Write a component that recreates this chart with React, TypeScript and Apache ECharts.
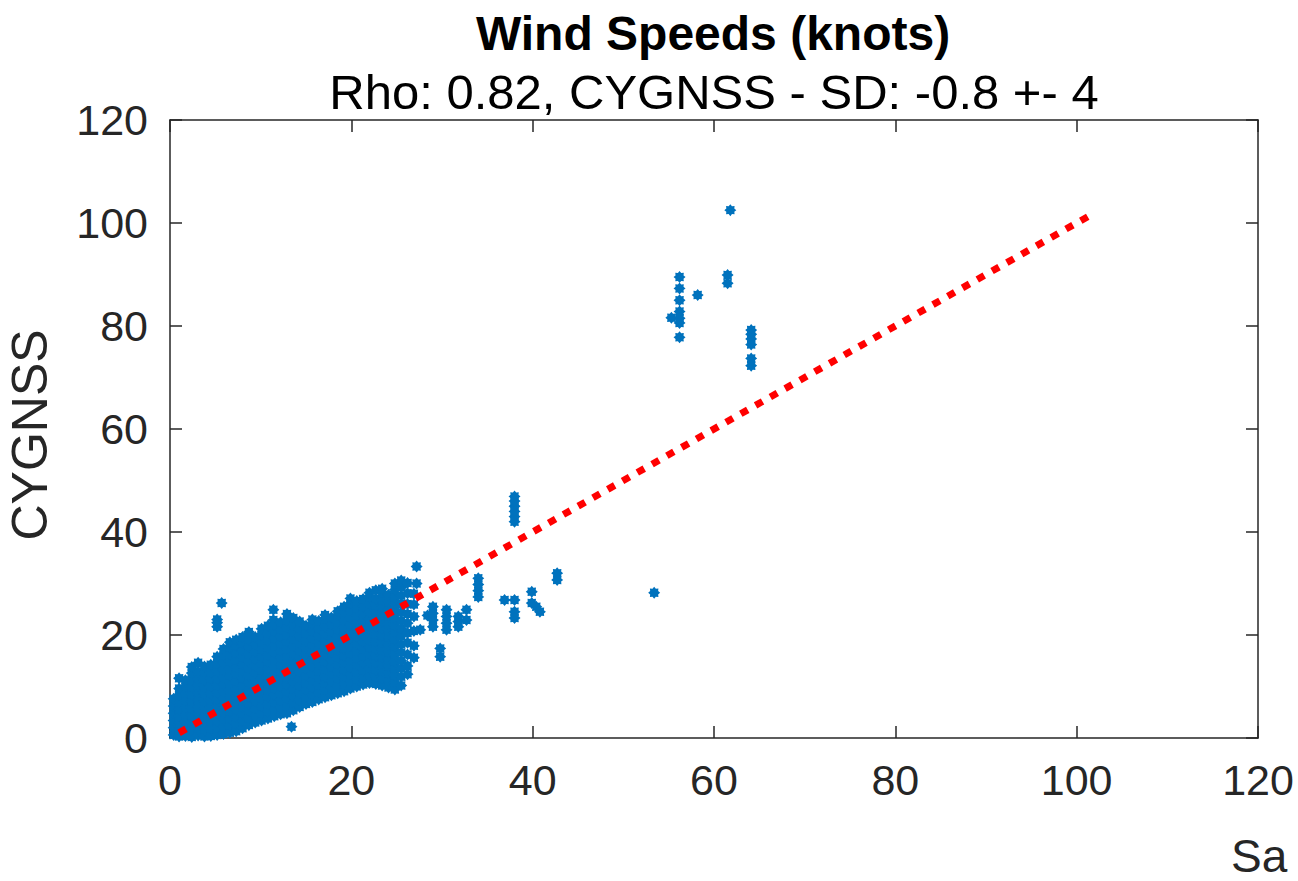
import React, { useEffect, useRef } from "react";
import * as echarts from "echarts";

// Axis ticks
const X_TICKS = [0, 20, 40, 60, 80, 100, 120];
const Y_TICKS = [0, 20, 40, 60, 80, 100, 120];

// Main dense cloud, read column by column: [x, [y values]]
const CLOUD: [number, number[]][] = [
  [0.4, [0.6, 2.0, 3.4, 4.8, 6.2, 7.6]],
  [1.0, [0.3, 1.5, 2.9, 4.3, 5.6, 7.0, 8.4, 9.6, 11.6]],
  [1.7, [0.4, 1.8, 3.1, 4.5, 5.9, 7.3, 8.6, 10.0, 11.2]],
  [2.4, [0.2, 1.6, 3.0, 4.4, 5.8, 7.1, 8.5, 9.9, 11.3, 12.6, 13.8]],
  [3.1, [0.5, 1.9, 3.3, 4.6, 6.0, 7.4, 8.8, 10.2, 11.5, 12.9, 14.6]],
  [3.8, [0.3, 1.7, 3.0, 4.4, 5.8, 7.2, 8.6, 9.9, 11.3, 12.7, 13.9]],
  [4.5, [0.4, 1.8, 3.2, 4.6, 6.0, 7.3, 8.7, 10.1, 11.5, 12.8, 14.2]],
  [5.2, [0.6, 2.0, 3.4, 4.8, 6.1, 7.5, 8.9, 10.3, 11.6, 13.0, 14.4, 15.8, 21.6, 22.4, 23.0]],
  [5.7, [26.2]],
  [5.9, [0.8, 2.2, 3.6, 4.9, 6.3, 7.7, 9.1, 10.4, 11.8, 13.2, 14.6, 16.0, 17.3]],
  [6.6, [1.0, 2.4, 3.8, 5.2, 6.6, 7.9, 9.3, 10.7, 12.1, 13.4, 14.8, 16.2, 17.6, 18.6]],
  [7.3, [1.3, 2.7, 4.1, 5.5, 6.9, 8.2, 9.6, 11.0, 12.4, 13.8, 15.1, 16.5, 17.9, 19.1]],
  [8.0, [1.9, 3.3, 4.7, 6.0, 7.4, 8.8, 10.2, 11.6, 12.9, 14.3, 15.7, 17.1, 18.4, 19.6]],
  [8.7, [2.5, 3.9, 5.3, 6.7, 8.0, 9.4, 10.8, 12.2, 13.6, 14.9, 16.3, 17.7, 19.1, 20.6]],
  [9.4, [3.0, 4.4, 5.8, 7.2, 8.5, 9.9, 11.3, 12.7, 14.1, 15.4, 16.8, 18.2, 19.6]],
  [10.1, [3.4, 4.8, 6.2, 7.6, 8.9, 10.3, 11.7, 13.1, 14.5, 15.8, 17.2, 18.6, 20.0, 21.2]],
  [10.8, [3.8, 5.2, 6.6, 8.0, 9.3, 10.7, 12.1, 13.5, 14.9, 16.2, 17.6, 19.0, 20.4, 21.8]],
  [11.4, [22.9, 24.9]],
  [11.5, [4.2, 5.6, 7.0, 8.4, 9.7, 11.1, 12.5, 13.9, 15.3, 16.6, 18.0, 19.4, 20.8, 22.0]],
  [12.2, [4.6, 6.0, 7.4, 8.7, 10.1, 11.5, 12.9, 14.3, 15.6, 17.0, 18.4, 19.8, 21.1, 22.5]],
  [12.9, [4.8, 6.2, 7.6, 9.0, 10.4, 11.8, 13.1, 14.5, 15.9, 17.3, 18.7, 20.0, 21.4, 22.8, 24.1]],
  [13.4, [2.2]],
  [13.6, [5.4, 6.8, 8.2, 9.5, 10.9, 12.3, 13.7, 15.1, 16.4, 17.8, 19.2, 20.6, 21.9, 23.3]],
  [14.3, [6.0, 7.4, 8.8, 10.2, 11.5, 12.9, 14.3, 15.7, 17.0, 18.4, 19.8, 21.2, 22.6]],
  [15.0, [6.6, 8.0, 9.4, 10.7, 12.1, 13.5, 14.9, 16.3, 17.6, 19.0, 20.4, 21.8]],
  [15.7, [7.0, 8.4, 9.8, 11.2, 12.6, 13.9, 15.3, 16.7, 18.1, 19.4, 20.8, 22.2, 23.0]],
  [16.4, [7.5, 8.9, 10.3, 11.7, 13.0, 14.4, 15.8, 17.2, 18.5, 19.9, 21.3, 22.7]],
  [17.1, [7.9, 9.3, 10.7, 12.0, 13.4, 14.8, 16.2, 17.6, 18.9, 20.3, 21.7, 23.1, 23.9]],
  [17.8, [8.3, 9.7, 11.1, 12.5, 13.8, 15.2, 16.6, 18.0, 19.3, 20.7, 22.1, 23.4]],
  [18.5, [8.7, 10.1, 11.5, 12.9, 14.2, 15.6, 17.0, 18.4, 19.8, 21.1, 22.5, 23.9, 24.6]],
  [19.2, [9.1, 10.5, 11.9, 13.3, 14.6, 16.0, 17.4, 18.8, 20.2, 21.5, 22.9, 24.3, 25.5]],
  [19.9, [9.6, 11.0, 12.4, 13.7, 15.1, 16.5, 17.9, 19.3, 20.6, 22.0, 23.4, 24.8, 26.2, 27.1]],
  [20.6, [10.0, 11.4, 12.8, 14.2, 15.5, 16.9, 18.3, 19.7, 21.0, 22.4, 23.8, 25.2, 26.6]],
  [21.3, [10.4, 11.8, 13.2, 14.6, 15.9, 17.3, 18.7, 20.1, 21.4, 22.8, 24.2, 25.6, 27.0]],
  [22.0, [10.7, 12.1, 13.5, 14.8, 16.2, 17.6, 19.0, 20.4, 21.7, 23.1, 24.5, 25.9, 27.3, 28.2]],
  [22.7, [10.5, 11.9, 13.3, 14.7, 16.0, 17.4, 18.8, 20.2, 21.6, 22.9, 24.3, 25.7, 27.1, 28.7]],
  [23.4, [10.2, 11.6, 13.0, 14.4, 15.7, 17.1, 18.5, 19.9, 21.3, 22.6, 24.0, 25.4, 26.8, 28.2, 29.0]],
  [24.1, [9.8, 11.2, 12.6, 14.0, 15.3, 16.7, 18.1, 19.5, 20.9, 22.2, 23.6, 25.0, 26.4, 27.8]],
  [24.8, [9.4, 10.8, 12.2, 13.6, 14.9, 16.3, 17.7, 19.1, 20.5, 21.8, 23.2, 24.6, 26.0, 27.4, 28.8, 30.0]],
  [25.5, [10.2, 11.9, 13.5, 15.0, 16.6, 18.2, 19.8, 21.3, 22.8, 24.4, 26.0, 27.6, 29.2, 30.6]],
  [26.2, [12.4, 14.0, 16.2, 18.5, 20.4, 22.3, 24.1, 26.0, 28.1, 30.1]],
  [26.9, [15.6, 17.9, 20.8, 23.6, 25.9, 28.0]],
  [27.2, [30.0, 33.3]],
  [27.6, [21.0]],
  [28.4, [23.8]],
  [29.0, [21.6, 22.9, 24.2, 25.5]],
  [29.8, [15.8, 17.4]],
  [30.5, [21.0, 22.3, 23.6, 24.9]],
  [31.8, [21.6, 22.6, 23.6]],
  [32.7, [22.9, 24.9]],
];

// Sparse outliers further right
const OUTLIERS: [number, number][] = [
  [34.0, 27.4], [34.0, 28.6], [34.0, 29.8], [34.0, 31.0],
  [36.9, 26.8],
  [38.0, 42.0], [38.0, 43.0], [38.0, 44.0], [38.0, 45.0], [38.0, 46.0], [38.0, 46.9],
  [38.0, 26.8], [38.0, 24.5], [38.0, 23.3],
  [39.9, 28.4], [39.9, 26.2], [40.4, 25.5], [40.8, 24.5],
  [42.7, 32.0], [42.7, 30.7],
  [53.4, 28.2],
  [55.3, 81.6],
  [56.2, 89.5], [56.2, 87.3], [56.2, 85.0], [56.2, 82.8], [56.2, 81.5], [56.2, 80.6], [56.2, 77.8],
  [58.2, 86.0],
  [61.5, 89.9], [61.5, 88.3],
  [61.8, 102.5],
  [64.1, 79.2], [64.1, 78.4], [64.1, 77.5], [64.1, 76.4], [64.1, 73.7], [64.1, 72.3],
];

// 1:1 reference line
const ONE_TO_ONE: [number, number][] = [
  [1, 1],
  [102, 102],
];

const TITLE = "Wind Speeds (knots)";
const SUBTITLE = "Rho: 0.82, CYGNSS - SD: -0.8 +- 4";
const Y_NAME = "CYGNSS";
const X_NAME = "Sa";

const STAR =
  "path://M10,5 L8.33,6.38 L8.54,8.54 L6.38,8.33 L5,10 L3.62,8.33 L1.46,8.54 L1.67,6.38 L0,5 L1.67,3.62 L1.46,1.46 L3.62,1.67 L5,0 L6.38,1.67 L8.54,1.46 L8.33,3.62 Z";

const FONT = "'Liberation Sans', Arial, Helvetica, sans-serif";
const AX = "#262626";

export default function App() {
  const ref = useRef<HTMLDivElement>(null);

  useEffect(() => {
    if (!ref.current) return;
    const chart = echarts.init(ref.current, null, { renderer: "svg" });

    const points: [number, number][] = [];
    CLOUD.forEach(([x, ys]) => ys.forEach((y) => points.push([x, y])));
    OUTLIERS.forEach((p) => points.push(p));

    const axisCommon = {
      type: "value" as const,
      min: X_TICKS[0],
      max: X_TICKS[X_TICKS.length - 1],
      interval: 20,
      splitLine: { show: false },
      axisLine: { show: true, onZero: false, lineStyle: { color: AX, width: 1.5 } },
      axisTick: { show: true, inside: true, length: 12, lineStyle: { color: AX, width: 1.5 } },
    };

    chart.setOption({
      animation: false,
      backgroundColor: "#ffffff",
      grid: { left: 170, top: 120, right: 40, bottom: 143, containLabel: false },
      xAxis: [
        {
          ...axisCommon,
          position: "bottom",
          axisLabel: { show: true, fontSize: 43, color: AX, margin: 20, fontFamily: FONT },
        },
        {
          ...axisCommon,
          position: "top",
          axisLabel: { show: false },
        },
      ],
      yAxis: [
        {
          ...axisCommon,
          min: Y_TICKS[0],
          max: Y_TICKS[Y_TICKS.length - 1],
          position: "left",
          axisLabel: { show: true, fontSize: 43, color: AX, margin: 22, fontFamily: FONT },
        },
        {
          ...axisCommon,
          min: Y_TICKS[0],
          max: Y_TICKS[Y_TICKS.length - 1],
          position: "right",
          axisLabel: { show: false },
        },
      ],
      series: [
        {
          type: "scatter",
          data: points,
          symbol: STAR,
          symbolSize: 12,
          itemStyle: { color: "#0072BD", opacity: 1 },
          z: 2,
        },
        {
          type: "line",
          data: ONE_TO_ONE,
          showSymbol: false,
          symbol: "none",
          lineStyle: { color: "#FF0000", width: 7, type: [8, 9], cap: "butt" },
          z: 3,
        },
      ],
      graphic: [
        {
          type: "text",
          x: 713,
          y: 33,
          style: {
            text: TITLE,
            font: `bold 48px ${FONT}`,
            fill: "#000000",
            textAlign: "center",
            textVerticalAlign: "middle",
          },
        },
        {
          type: "text",
          x: 714,
          y: 92,
          style: {
            text: SUBTITLE,
            font: `49px ${FONT}`,
            fill: "#000000",
            textAlign: "center",
            textVerticalAlign: "middle",
          },
        },
        {
          type: "text",
          x: 30,
          y: 435,
          rotation: Math.PI / 2,
          style: {
            text: Y_NAME,
            font: `50px ${FONT}`,
            fill: AX,
            textAlign: "center",
            textVerticalAlign: "middle",
          },
        },
        {
          type: "text",
          x: 1231,
          y: 856,
          style: {
            text: X_NAME,
            font: `46px ${FONT}`,
            fill: AX,
            textAlign: "left",
            textVerticalAlign: "middle",
          },
        },
      ],
    });

    return () => chart.dispose();
  }, []);

  return (
    <div
      ref={ref}
      style={{ position: "absolute", left: 0, top: 0, width: 1298, height: 881 }}
    />
  );
}
